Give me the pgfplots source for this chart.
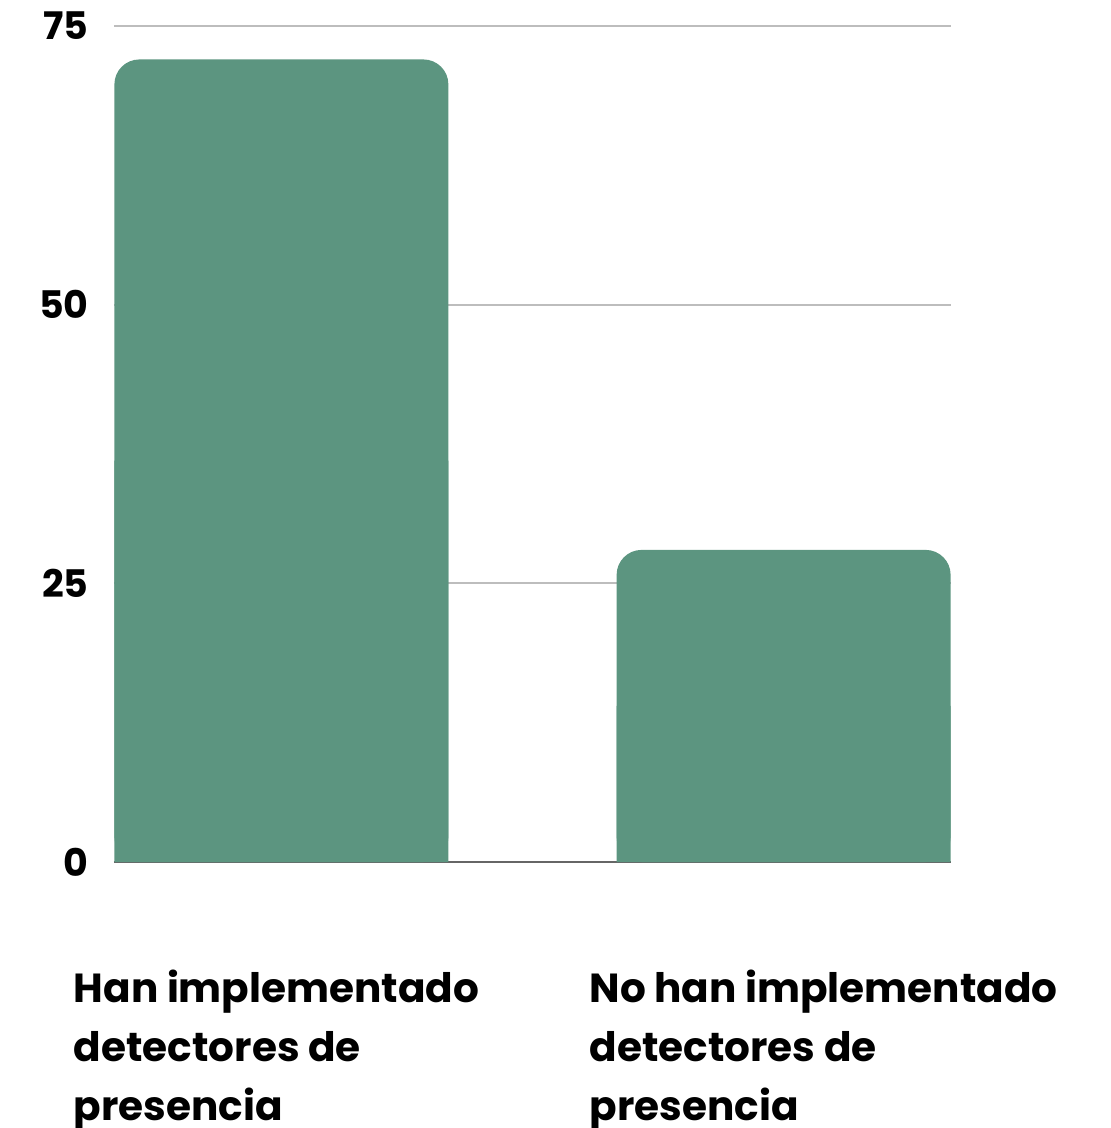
\documentclass[border=0pt]{standalone}
\usepackage{pgfplots}
\pgfplotsset{compat=1.18}
\usepackage{fontspec}
\setmainfont{Poppins}
\definecolor{barc}{HTML}{5C9580}
\definecolor{gridc}{HTML}{BDBDBD}
\definecolor{axisc}{HTML}{666666}
\newcommand{\lbl}[1]{\begin{tabular}[t]{@{}l@{}}#1\end{tabular}}
\begin{document}
\begin{tikzpicture}
\begin{axis}[
    at={(0,0)}, anchor=south west,
    scale only axis,
    width=418.5pt, height=418pt,
    xmin=-0.3333, xmax=1.3333,
    ymin=0, ymax=75,
    ytick={0,25,50,75},
    xtick={0,1},
    xticklabels={{\lbl{Han implementado\\detectores de\\presencia}},
                 {\hspace*{6.75pt}\lbl{No han implementado\\detectores de\\presencia}}},
    /pgf/number format/assume math mode=true,
    major tick length=0pt,
    axis x line*=bottom,
    axis y line*=left,
    x axis line style={draw=axisc, line width=1pt, -},
    y axis line style={draw=none},
    ymajorgrids=true,
    grid style={draw=gridc, line width=1pt},
    yticklabel style={font=\fontsize{19pt}{23pt}\selectfont\bfseries,
        inner sep=0pt, anchor=east, xshift=-12.5pt},
    xticklabel style={font=\fontsize{20.3pt}{29.5pt}\selectfont\bfseries,
        inner sep=0pt, anchor=north west, xshift=-104pt, yshift=-49.5pt},
]
% porcentaje de centros
\addplot[ybar, bar width=167pt, bar shift=0pt, fill=barc, draw=none,
    rounded corners=12.5pt] table {
x y
0 72
1 28
};
% relleno de las esquinas inferiores
\addplot[ybar, bar width=167pt, bar shift=0pt, fill=barc, draw=none]
    table[y expr=\thisrow{y}/2] {
x y
0 72
1 28
};
\end{axis}
\pgfresetboundingbox
\path[use as bounding box] (-57pt,-133pt) rectangle (498.5pt,431pt);
\end{tikzpicture}
\end{document}
